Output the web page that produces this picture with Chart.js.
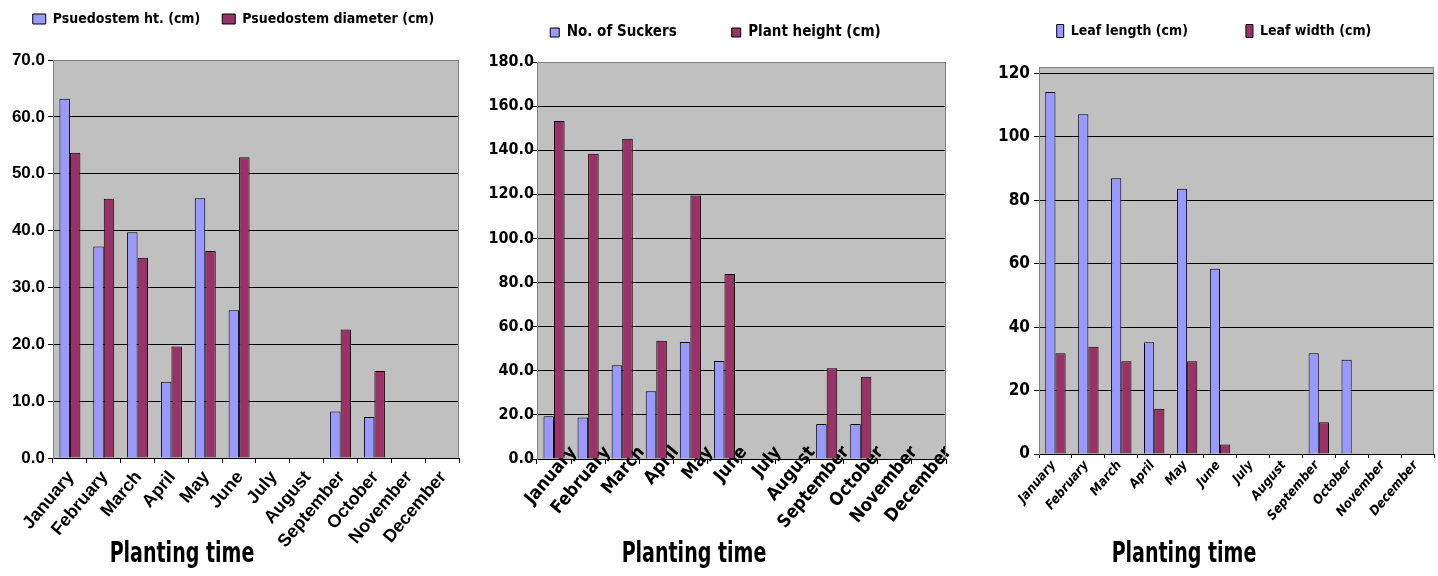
<!DOCTYPE html>
<html>
<head>
<meta charset="utf-8">
<script src="https://cdn.jsdelivr.net/npm/chart.js@4.4.1/dist/chart.umd.min.js"></script>
<style>
  body { margin: 0; background: #fff; width: 1438px; height: 576px; position: relative; overflow: hidden; }
  .panel { position: absolute; top: 0; width: 478px; height: 576px; }
  .xtitle {
    position: absolute; top: 537px; line-height: 30px; white-space: nowrap;
    font-family: 'Liberation Sans Narrow', 'Arial Narrow', 'DejaVu Sans Condensed', sans-serif;
    font-weight: bold; font-size: 29px; color: #000;
    transform: translateX(-50%) scaleX(0.73);
  }
</style>
</head>
<body>
<div class="panel" style="left:0"><canvas id="chart1" width="478" height="576"></canvas></div>
<div class="panel" style="left:480px"><canvas id="chart2" width="478" height="576"></canvas></div>
<div class="panel" style="left:960px"><canvas id="chart3" width="478" height="576"></canvas></div>
<div class="xtitle" style="left:182px">Planting time</div>
<div class="xtitle" style="left:694px">Planting time</div>
<div class="xtitle" style="left:1184px">Planting time</div>

<script>
// values, null where no bar is drawn
var months = ['January', 'February', 'March', 'April', 'May', 'June',
              'July', 'August', 'September', 'October', 'November', 'December'];

var stemHeight   = [63.2, 37.2, 39.7, 13.4, 45.7, 26.0, null, null, 8.2, 7.2, null, null];
var stemDiameter = [53.7, 45.6, 35.2, 19.6, 36.4, 52.9, null, null, 22.6, 15.3, null, null];

var suckers     = [19.4, 18.8, 42.5, 30.7, 53.1, 44.4, null, null, 15.9, 15.9, null, null];
var plantHeight = [153.2, 138.4, 145.2, 53.6, 119.5, 83.9, null, null, 41.2, 37.3, null, null];

var leafLength = [114.1, 107.1, 86.9, 35.2, 83.6, 58.4, null, null, 31.8, 29.7, null, null];
var leafWidth  = [31.8, 33.8, 29.2, 14.3, 29.2, 3.0, null, null, 10.0, null, null, null];

// [min, max, step]
var yTicks1 = [0, 70, 10];
var yTicks2 = [0, 180, 20];
var yTicks3 = [0, 122, 20];   // top of the plot sits a little above the 120 line

var BLUE = '#9999ff';
var MAROON = '#993366';
var ARIAL = "'Liberation Sans', Arial, sans-serif";
var NARROW = "'Liberation Sans Narrow', 'Arial Narrow', 'DejaVu Sans Condensed', sans-serif";

// grey plot area with a grey frame on top and right, like the old Excel charts
var plotArea = {
  id: 'plotArea',
  beforeDraw: function (chart) {
    var a = chart.chartArea, ctx = chart.ctx;
    ctx.save();
    ctx.fillStyle = '#c0c0c0';
    ctx.fillRect(a.left, a.top, a.right - a.left, a.bottom - a.top);
    ctx.restore();
  },
  beforeDatasetsDraw: function (chart) {
    var a = chart.chartArea, ctx = chart.ctx;
    ctx.save();
    ctx.strokeStyle = '#808080';
    ctx.lineWidth = 1;
    ctx.beginPath();
    ctx.moveTo(a.left, a.top + 0.5);
    ctx.lineTo(a.right - 0.5, a.top + 0.5);
    ctx.lineTo(a.right - 0.5, a.bottom);
    ctx.stroke();
    ctx.restore();
  }
};

function makeChart(id, names, seriesA, seriesB, cfg) {
  var ctx = document.getElementById(id).getContext('2d');
  return new Chart(ctx, {
    type: 'bar',
    data: {
      labels: months,
      datasets: [{
        label: names[0],
        data: seriesA,
        backgroundColor: BLUE,
        borderColor: '#000',
        borderWidth: 1,
        categoryPercentage: cfg.cat,
        barPercentage: 1
      }, {
        label: names[1],
        data: seriesB,
        backgroundColor: MAROON,
        borderColor: '#000',
        borderWidth: 1,
        categoryPercentage: cfg.cat,
        barPercentage: 1
      }]
    },
    plugins: [plotArea],
    options: {
      responsive: false,
      animation: false,
      layout: { padding: cfg.padding },
      plugins: {
        legend: {
          display: true,
          labels: {
            color: '#000',
            boxWidth: cfg.box[0],
            boxHeight: cfg.box[1],
            padding: cfg.legendGap,
            font: cfg.legendFont
          }
        },
        // empty title used only as a gap between legend and plot
        title: {
          display: true,
          text: ' ',
          weight: 500,
          font: { size: 1, lineHeight: 1 },
          padding: { top: cfg.spacer[0], bottom: cfg.spacer[1] }
        },
        tooltip: { enabled: false }
      },
      scales: {
        x: {
          afterFit: function (scale) { scale.height = cfg.xHeight; },
          grid: { offset: true, drawOnChartArea: false, tickLength: cfg.xTick, color: '#000' },
          border: { color: '#000' },
          ticks: {
            color: '#000',
            autoSkip: false,
            mirror: !!cfg.xMirror,   // mirror only to let the labels ride up over the axis
            minRotation: cfg.rot,
            maxRotation: cfg.rot,
            padding: cfg.xPad,
            labelOffset: cfg.xOffset,
            font: cfg.xFont
          }
        },
        y: {
          min: cfg.y[0],
          max: cfg.y[1],
          afterFit: function (scale) { scale.width = cfg.yWidth; },
          grid: { color: '#000', lineWidth: 1, tickLength: 5, tickColor: '#000' },
          border: { color: '#808080' },
          ticks: {
            stepSize: cfg.y[2],
            includeBounds: false,
            color: '#000',
            padding: cfg.yPad,
            font: cfg.yFont,
            callback: cfg.fmt
          }
        }
      }
    }
  });
}

makeChart('chart1', ['Psuedostem ht. (cm)', 'Psuedostem diameter (cm)'], stemHeight, stemDiameter, {
  cat: 0.62,
  padding: { top: -10, right: 19, left: 8, bottom: 0 },
  box: [13, 10],
  legendGap: 22,
  legendFont: { family: NARROW, size: 14, weight: 'bold' },
  spacer: [12, 11],
  xHeight: 118, xTick: 5, rot: 50, xPad: 4, xOffset: 1,
  xFont: { family: ARIAL, size: 18, weight: 'bold' },
  y: yTicks1, yWidth: 45, yPad: 3,
  yFont: { family: ARIAL, size: 17, weight: 'bold' },
  fmt: function (v) { return v.toFixed(1); }
});

makeChart('chart2', ['No. of Suckers', 'Plant height (cm)'], suckers, plantHeight, {
  cat: 0.62,
  padding: { top: -30, right: 12, left: 5, bottom: 0 },
  box: [9, 9],
  legendGap: 55,
  legendFont: { family: NARROW, size: 15, weight: 'bold' },
  spacer: [6, 5],
  xHeight: 117, xTick: 5, rot: 50, xMirror: true, xPad: 3, xOffset: 36,
  xFont: { family: NARROW, size: 18, weight: 'bold' },
  y: yTicks2, yWidth: 52, yPad: -2,
  yFont: { family: NARROW, size: 16, weight: 'bold' },
  fmt: function (v) { return v.toFixed(1); }
});

makeChart('chart3', ['Leaf length (cm)', 'Leaf width (cm)'], leafLength, leafWidth, {
  cat: 0.62,
  padding: { top: -34, right: 4, left: 34, bottom: 0 },
  box: [7, 13],
  legendGap: 58,
  legendFont: { family: NARROW, size: 14, weight: 'bold' },
  spacer: [9, 9],
  xHeight: 122, xTick: 4, rot: 50, xPad: 0, xOffset: -2,
  xFont: { family: NARROW, size: 13, weight: 'bold', style: 'italic' },
  y: yTicks3, yWidth: 45, yPad: 4,
  yFont: { family: NARROW, size: 17, weight: 'bold' },
  fmt: function (v) { return String(v); }
});
</script>
</body>
</html>
